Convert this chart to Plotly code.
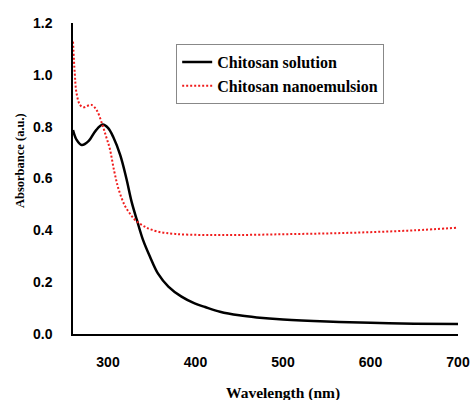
import plotly.graph_objects as go

# Chitosan solution (black solid)
wl_solution = [260, 264, 270, 278, 286, 294, 300, 306, 314, 321, 327, 333, 340, 348, 357,
               369, 384, 399, 411, 428, 450, 470, 500, 550, 600, 650, 700]
abs_solution = [0.787, 0.75, 0.729, 0.745, 0.785, 0.808, 0.795, 0.76, 0.69, 0.60, 0.51,
                0.44, 0.363, 0.298, 0.234, 0.183, 0.144, 0.118, 0.104, 0.086, 0.072, 0.064,
                0.056, 0.048, 0.043, 0.040, 0.039]

# Chitosan nanoemulsion (red dotted)
wl_nano = [260, 262, 264, 268, 272, 281, 287, 293, 298, 302, 307, 312, 319, 325, 331, 342,
           357, 377, 411, 450, 500, 550, 600, 650, 700]
abs_nano = [1.128, 1.006, 0.93, 0.884, 0.875, 0.884, 0.864, 0.813, 0.76, 0.716, 0.63, 0.56,
            0.497, 0.465, 0.44, 0.414, 0.395, 0.386, 0.382, 0.382, 0.385, 0.388, 0.393,
            0.40, 0.41]

x_ticks = [300, 400, 500, 600, 700]
y_ticks = [0.0, 0.2, 0.4, 0.6, 0.8, 1.0, 1.2]

fig = go.Figure()
fig.add_trace(go.Scatter(x=wl_solution, y=abs_solution, mode="lines",
                         name="<b>Chitosan solution</b>",
                         line=dict(color="black", width=2.5, shape="spline", smoothing=1.0)))
fig.add_trace(go.Scatter(x=wl_nano, y=abs_nano, mode="lines",
                         name="<b>Chitosan nanoemulsion</b>",
                         line=dict(color="#f01c1c", width=2, dash="2px,2px", shape="spline",
                                   smoothing=1.0)))

tickfont = dict(family="Liberation Sans", size=14, color="black")
fig.update_layout(
    width=470, height=400,
    margin=dict(l=73, r=12, t=23, b=66, autoexpand=False),
    paper_bgcolor="white", plot_bgcolor="white",
    showlegend=True,
    legend=dict(x=0.268, y=0.932, xanchor="left", yanchor="top",
                bordercolor="#888888", borderwidth=1, bgcolor="white",
                font=dict(family="Liberation Serif", size=16, color="black"),
                tracegroupgap=0, itemwidth=30),
    xaxis=dict(range=[260, 700], tickvals=x_ticks, ticktext=[f"<b>{v}</b>" for v in x_ticks],
               showgrid=False, zeroline=False, showline=True, linecolor="black", linewidth=2,
               ticks="", tickfont=tickfont, ticklabelstandoff=14, automargin=False),
    yaxis=dict(range=[0, 1.2], tickvals=y_ticks, ticktext=[f"<b>{v:.1f}</b>" for v in y_ticks],
               showgrid=False, zeroline=False, showline=True, linecolor="black", linewidth=1.5,
               ticks="", tickfont=tickfont, ticklabelstandoff=16, automargin=False),
    annotations=[
        dict(text="<b>Wavelength (nm)</b>", xref="paper", yref="paper", x=0.545, y=-0.189,
             showarrow=False, xanchor="center", yanchor="middle",
             font=dict(family="Liberation Serif", size=15.5, color="black")),
        dict(text="<b>Absorbance (a.u.)</b>", xref="paper", yref="paper", x=-0.138, y=0.559,
             showarrow=False, xanchor="center", yanchor="middle", textangle=-90,
             font=dict(family="Liberation Serif", size=12.5, color="black")),
    ],
)

fig.write_html("out.html", config={"responsive": False, "displayModeBar": False},
               post_script="document.body.style.margin='0';document.body.style.overflow='hidden';")
